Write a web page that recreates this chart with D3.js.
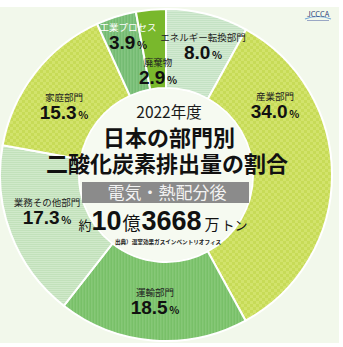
<!DOCTYPE html>
<html>
<head>
<meta charset="utf-8">
<script src="https://cdn.jsdelivr.net/npm/d3@7"></script>
<style>
  html, body { margin: 0; padding: 0; background: #ffffff; }
  svg { display: block; }
  text { font-family: "Noto Sans CJK JP", "Noto Sans", sans-serif; }
</style>
</head>
<body>
<svg id="chart" width="343" height="347"></svg>
<script>
// 2022年度 部門別CO2排出量（電気・熱配分後）
const sectors = ["エネルギー転換部門", "産業部門", "運輸部門", "業務その他部門", "家庭部門", "工業プロセス", "廃棄物"];
const shares  = [8.0, 34.0, 18.5, 17.3, 15.3, 3.9, 2.9];
const fills   = ["url(#hstripeA)", "url(#checker)", "url(#vstripe)", "url(#hstripeB)", "url(#checker)", "url(#vstripe2)", "#79b82c"];
const labelColors = ["#222", "#222", "#222", "#222", "#222", "#fff", "#222"];
// label baseline offsets from the donut centre
const labelOffsets = [[37, -134], [109, -75], [-11, 121], [-119, 31], [-102, -74], [-38, -144], [-8, -109]];

const W = 343, H = 347;
const cx = 166, cy = 175, rOuter = 166, rInner = 87;

const svg = d3.select("#chart");
const defs = svg.append("defs");

// fill patterns
function checker(id, base, alt, s) {
  const p = defs.append("pattern").attr("id", id).attr("patternUnits", "userSpaceOnUse")
    .attr("width", s * 2).attr("height", s * 2);
  p.append("rect").attr("width", s * 2).attr("height", s * 2).attr("fill", base);
  p.append("rect").attr("width", s).attr("height", s).attr("fill", alt);
  p.append("rect").attr("x", s).attr("y", s).attr("width", s).attr("height", s).attr("fill", alt);
}
function stripes(id, base, alt, period, vertical) {
  const p = defs.append("pattern").attr("id", id).attr("patternUnits", "userSpaceOnUse")
    .attr("width", period).attr("height", period);
  p.append("rect").attr("width", period).attr("height", period).attr("fill", base);
  if (vertical) p.append("rect").attr("width", period / 2).attr("height", period).attr("fill", alt);
  else p.append("rect").attr("width", period).attr("height", period / 2).attr("fill", alt);
}
checker("checker", "#c7db57", "#d2e36c", 3);
stripes("hstripeA", "#c4e2c4", "#d3ead2", 2, false);
stripes("hstripeB", "#c2e1bb", "#d0e9ca", 2, false);
stripes("vstripe", "#78c068", "#86c877", 3, true);
stripes("vstripe2", "#74bb72", "#84c581", 3, true);

// background panel
svg.append("rect").attr("x", 0).attr("y", 7).attr("width", 339).attr("height", 336).attr("fill", "#f2f8eb");

const g = svg.append("g").attr("transform", `translate(${cx},${cy})`);

const pie = d3.pie().sort(null).value(d => d).startAngle(0).endAngle(2 * Math.PI);
const arcs = pie(shares);
const arc = d3.arc().innerRadius(rInner).outerRadius(rOuter);

g.selectAll("path.slice")
  .data(arcs)
  .join("path")
  .attr("class", "slice")
  .attr("d", arc)
  .attr("fill", (d, i) => fills[i])
  .attr("stroke", "#ffffff")
  .attr("stroke-width", 2);

// inner disc
g.append("circle").attr("r", rInner - 1).attr("fill", "#f6faf1");

// slice labels
const fmt = d3.format(".1f");
const lab = g.selectAll("g.lab")
  .data(arcs)
  .join("g")
  .attr("class", "lab")
  .attr("transform", (d, i) => `translate(${labelOffsets[i][0]},${labelOffsets[i][1]})`);

lab.append("text")
  .attr("text-anchor", "middle")
  .attr("font-size", 9.5)
  .attr("fill", (d, i) => labelColors[i])
  .text((d, i) => sectors[i]);

const val = lab.append("text")
  .attr("text-anchor", "middle")
  .attr("y", 18)
  .attr("fill", "#111");
val.append("tspan")
  .attr("font-size", 19).attr("font-weight", 900)
  .attr("font-family", "'Liberation Sans', Arial, sans-serif")
  .text(d => fmt(d.data));
val.append("tspan")
  .attr("font-size", 10.5).attr("font-weight", 700).attr("dx", 1.5)
  .text("%");

// grey band behind the allocation note
svg.append("rect").attr("x", 82).attr("y", 182).attr("width", 167).attr("height", 21).attr("fill", "#8b8b8b");

// centre titles
const c = svg.append("g").attr("text-anchor", "middle");
c.append("text").attr("x", 169).attr("y", 118).attr("font-size", 15.5).attr("fill", "#1a1a1a").text("2022年度");
c.append("text").attr("x", 169).attr("y", 146).attr("font-size", 22).attr("font-weight", 700).attr("fill", "#111").text("日本の部門別");
c.append("text").attr("x", 167).attr("y", 172).attr("font-size", 22).attr("font-weight", 700).attr("fill", "#111").text("二酸化炭素排出量の割合");

c.append("text").attr("x", 167).attr("y", 199).attr("font-size", 17).attr("fill", "#f2f2f2").text("電気・熱配分後");

const total = c.append("text").attr("x", 163).attr("y", 230).attr("fill", "#111");
total.append("tspan").attr("font-size", 13).text("約");
total.append("tspan").attr("font-size", 27).attr("font-weight", 900)
  .attr("font-family", "'Liberation Sans', Arial, sans-serif").text("10");
total.append("tspan").attr("font-size", 18).attr("dx", 1).text("億");
total.append("tspan").attr("font-size", 27).attr("font-weight", 900)
  .attr("font-family", "'Liberation Sans', Arial, sans-serif").attr("dx", 1).text("3668");
total.append("tspan").attr("font-size", 15).attr("dx", 3).text("万");
total.append("tspan").attr("font-size", 13).attr("dx", 2).text("トン");

c.append("text").attr("x", 168).attr("y", 244).attr("font-size", 5.6).attr("font-weight", 700).attr("fill", "#222")
  .text("出典）温室効果ガスインベントリオフィス");

// JCCCA mark
const logo = svg.append("g").attr("transform", "translate(318,17)");
logo.append("path").attr("d", "M-13,2 Q0,-3 13,2").attr("fill", "none").attr("stroke", "#6fa6d8").attr("stroke-width", 1.2);
logo.append("text").attr("text-anchor", "middle").attr("y", 0).attr("font-size", 7.5)
  .attr("font-family", "'Liberation Serif', serif").attr("fill", "#2d3f7a").text("JCCCA");
logo.append("rect").attr("x", -11).attr("y", 3).attr("width", 22).attr("height", 1).attr("fill", "#9aa7c4");
</script>
</body>
</html>
